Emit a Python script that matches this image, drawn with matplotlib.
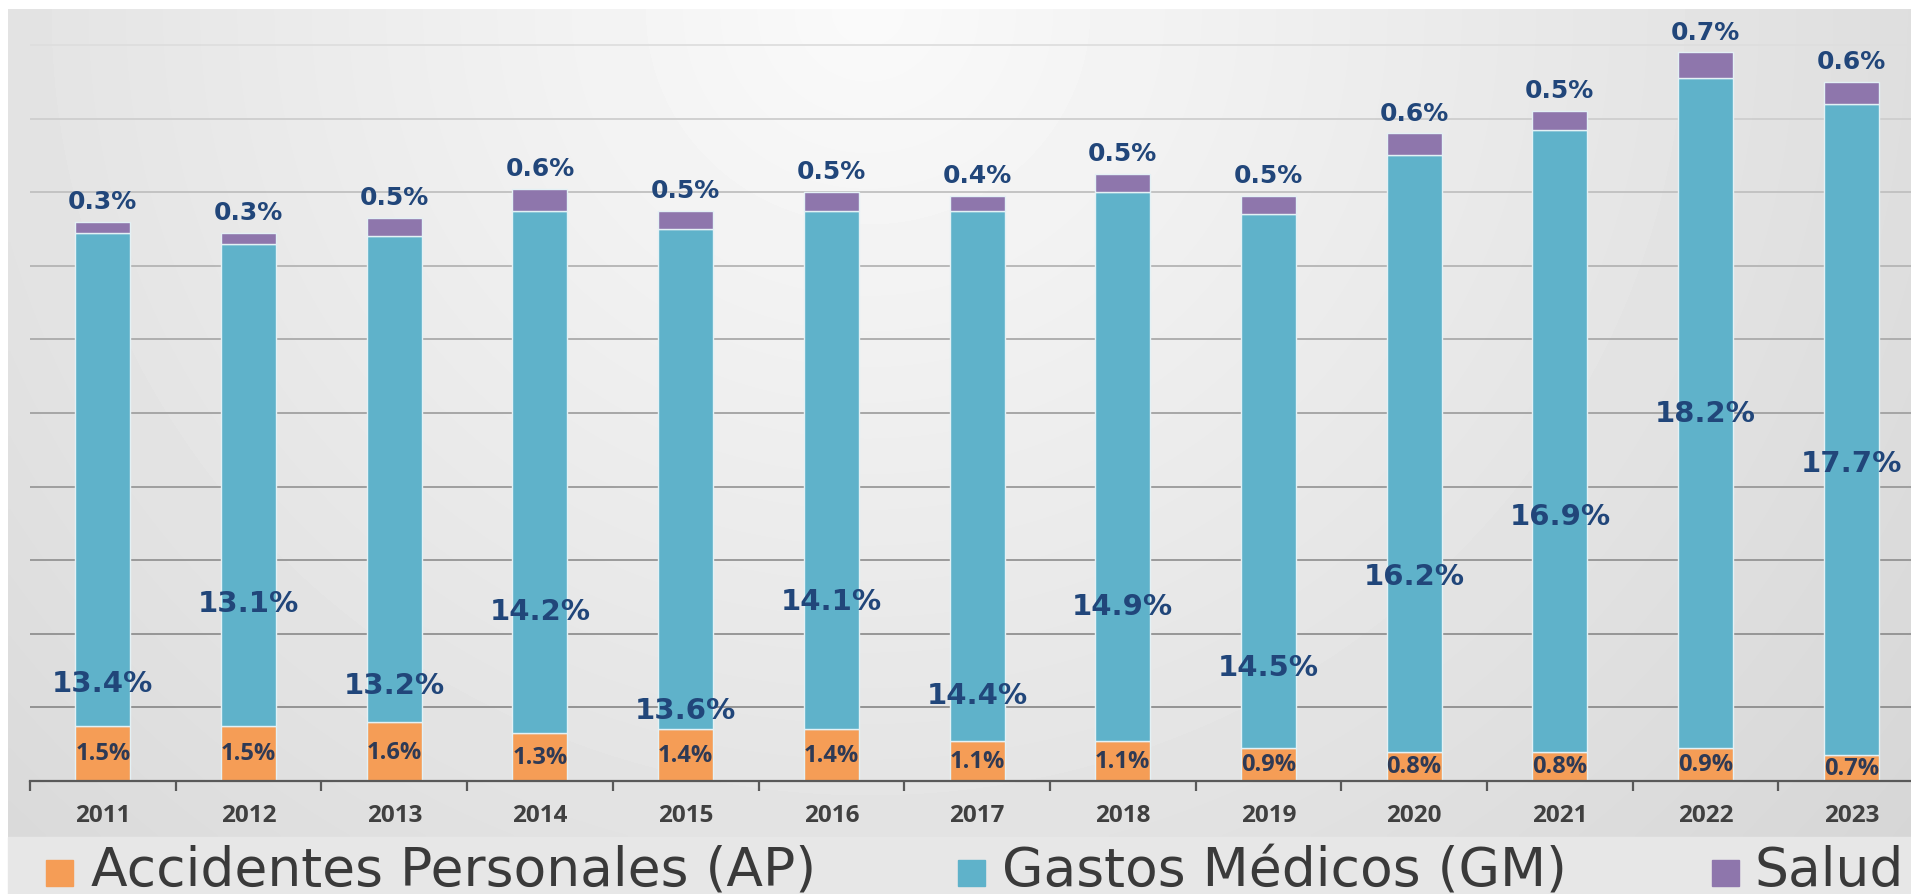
import numpy as np
import matplotlib
matplotlib.use("Agg")
import matplotlib.pyplot as plt
from matplotlib.patches import Rectangle

# data (% share)
years = ["2011", "2012", "2013", "2014", "2015", "2016", "2017",
         "2018", "2019", "2020", "2021", "2022", "2023"]
ap = [1.5, 1.5, 1.6, 1.3, 1.4, 1.4, 1.1, 1.1, 0.9, 0.8, 0.8, 0.9, 0.7]
gm = [13.4, 13.1, 13.2, 14.2, 13.6, 14.1, 14.4, 14.9, 14.5, 16.2, 16.9, 18.2, 17.7]
salud = [0.3, 0.3, 0.5, 0.6, 0.5, 0.5, 0.4, 0.5, 0.5, 0.6, 0.5, 0.7, 0.6]
series_names = ["Accidentes Personales (AP)", "Gastos Médicos (GM)", "Salud"]

# where the GM labels sit (layout only, y in axis units)
gm_label_y = [2.66, 4.85, 2.6, 4.62, 1.93, 4.88, 2.33, 4.75, 3.09, 5.58, 7.2, 10.0, 8.63]

c_ap, c_gm, c_salud = "#F59D56", "#5FB2CA", "#8E76AC"
navy = "#21467A"

W, H = 1911, 895
fig = plt.figure(figsize=(W / 100, H / 100), dpi=100)
fig.patch.set_facecolor("white")

# gradient panel behind the chart
bg = fig.add_axes([8 / W, (H - 838) / H, 1.0, (838 - 10) / H])
gx, gy = np.meshgrid(np.linspace(0, 1, 400), np.linspace(0, 1, 200))
r = np.sqrt(((gx - 0.45) / 0.45) ** 2 + gy ** 2)
shade = np.clip(250 - 23 * r, 205, 252) / 255.0
bg.imshow(shade, cmap="gray", vmin=0, vmax=1, aspect="auto",
          extent=(0, 1, 0, 1), origin="upper", interpolation="bilinear")
bg.set_axis_off()
bg.set_zorder(-5)

# legend band
fig.add_artist(Rectangle((8 / W, 0), 1.0, (H - 838) / H,
                         transform=fig.transFigure, color="#E7E7E7", zorder=-4))

ax = fig.add_axes([30 / W, (H - 782) / H, 13 * 145.7 / W, 772 / H])
ax.set_facecolor("none")

x = np.arange(len(years))
bw = 0.377
ap_a = np.array(ap)
gm_a = np.array(gm)
sal_a = np.array(salud)
edge = dict(edgecolor="#E4F1F5", linewidth=1.0, zorder=3)
ax.bar(x, ap_a, bw, color=c_ap, **edge)
ax.bar(x, gm_a, bw, bottom=ap_a, color=c_gm, **edge)
ax.bar(x, sal_a, bw, bottom=ap_a + gm_a, color=c_salud, **edge)

ax.set_xlim(-0.5, len(years) - 0.5)
ax.set_ylim(0, 20.98)

# gridlines, lighter towards the top
for v in range(2, 21, 2):
    g = 0.55 + 0.32 * (v / 20) ** 2
    ax.axhline(v, color=(g, g, g), lw=1.3, zorder=1)

for s in ["top", "right", "left"]:
    ax.spines[s].set_visible(False)
ax.spines["bottom"].set_color("#595959")
ax.spines["bottom"].set_linewidth(1.6)
ax.spines["bottom"].set_zorder(4)
ax.set_yticks([])

ax.set_xticks(x)
ax.set_xticklabels(years, fontfamily="Open Sans", fontweight="bold",
                   fontsize=17.5, color="#404040")
ax.tick_params(axis="x", which="major", length=0, pad=16)
ax.set_xticks(np.arange(-0.5, len(years), 1.0), minor=True)
ax.tick_params(axis="x", which="minor", length=7, width=1.6,
               color="#595959", direction="out")

# value labels
for i in range(len(years)):
    ax.text(x[i], ap_a[i] / 2, f"{ap[i]:.1f}%", ha="center", va="center",
            fontfamily="Open Sans", fontweight="bold", fontsize=17,
            color="#2E3A55", zorder=6)
    ax.text(x[i], gm_label_y[i], f"{gm[i]:.1f}%", ha="center", va="center",
            fontfamily="DejaVu Sans", fontweight="bold", fontsize=21,
            color=navy, zorder=6)
    ax.annotate(f"{salud[i]:.1f}%", (x[i], ap_a[i] + gm_a[i] + sal_a[i]),
                xytext=(0, 15), textcoords="offset points",
                ha="center", va="center", fontfamily="DejaVu Sans",
                fontweight="bold", fontsize=18, color=navy, zorder=6)

# legend row
leg_sq_x = [46, 958, 1712]
leg_tx_x = [91, 1002, 1755]
for name, col, sx, tx in zip(series_names, [c_ap, c_gm, c_salud], leg_sq_x, leg_tx_x):
    fig.add_artist(Rectangle((sx / W, 8 / H), 27 / W, 26 / H,
                             transform=fig.transFigure, color=col, zorder=5))
    fig.text(tx / W, 9 / H, name, ha="left", va="baseline",
             fontfamily="DejaVu Sans", fontsize=38.5, color="#3A3A3A", zorder=5)

fig.savefig("out.png", dpi=100)
